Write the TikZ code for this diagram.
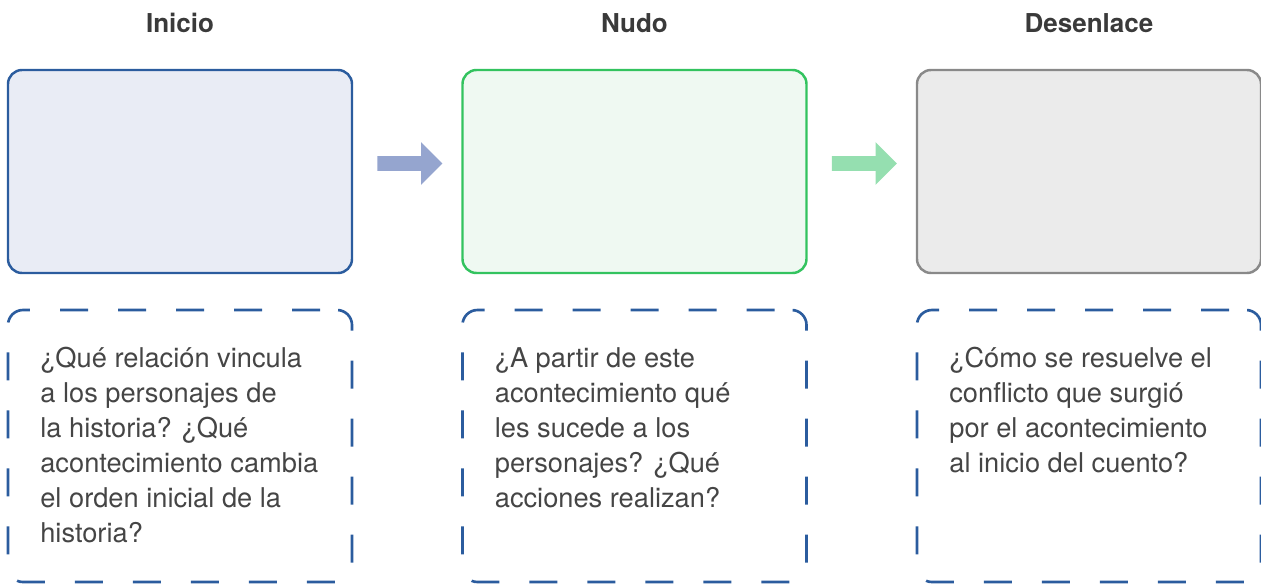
\documentclass[tikz,border=0pt]{standalone}
\usepackage{fontspec}
\setmainfont{TeX Gyre Heros}
\usepackage{xcolor}
\usetikzlibrary{positioning,shapes.arrows}
\definecolor{inkblue}{HTML}{2B5C9E}
\definecolor{iniciofill}{HTML}{E9ECF5}
\definecolor{nudoline}{HTML}{33C35F}
\definecolor{nudofill}{HTML}{EFF9F2}
\definecolor{cierreline}{HTML}{898989}
\definecolor{cierrefill}{HTML}{EBEBEB}
\definecolor{flowblue}{HTML}{95A5CF}
\definecolor{flowgreen}{HTML}{95DFB0}
\definecolor{textgray}{HTML}{454545}
\definecolor{headgray}{HTML}{3A3A3A}
\begin{document}
\begin{tikzpicture}[
  part/.style={draw, outer sep=0, line width=1.4pt, rounded corners=0.28cm,
    minimum width=6.88cm, minimum height=4.06cm},
  ask/.style={draw=inkblue, outer sep=0, line width=1.5pt, rounded corners=0.3cm,
    dash pattern=on 0.56cm off 0.6cm, dash phase=0.82cm,
    minimum width=6.88cm, minimum height=5.44cm},
  title/.style={inner sep=0, text=headgray, font=\bfseries\fontsize{14.8}{18}\selectfont},
  qtext/.style={inner sep=0, align=left, anchor=north west, text=textgray,
    font=\fontsize{15.5}{19.9}\selectfont, execute at begin node={\rule{0pt}{16pt}}},
  flow/.style={single arrow, draw=none, inner sep=0, inner ysep=0.14cm,
    single arrow head extend=0.28cm, minimum height=1.3cm}]
  \useasboundingbox (0,0) rectangle (25.22,-11.68);
  % the three parts of the story
  \node[part, draw=inkblue, fill=iniciofill] (inicio) at (3.6,-3.43) {};
  \node[part, draw=nudoline, fill=nudofill, right=2.21cm of inicio] (nudo) {};
  \node[part, draw=cierreline, fill=cierrefill, right=2.21cm of nudo] (desenlace) {};
  \node[title, above=0.73cm of inicio] (tinicio) {Inicio};
  \node[title, above=0.73cm of nudo] (tnudo) {Nudo};
  \node[title, above=0.73cm of desenlace] (tdesenlace) {Desenlace};
  \node[flow, fill=flowblue, right=0.5cm of inicio, yshift=0.16cm] (f1) {};
  \node[flow, fill=flowgreen, right=0.5cm of nudo, yshift=0.16cm] (f2) {};
  % questions
  \node[ask, below=0.74cm of inicio] (ask1) {};
  \node[ask, below=0.74cm of nudo] (ask2) {};
  \node[ask, below=0.74cm of desenlace] (ask3) {};
  \node[qtext, below right=0.74cm and 0.64cm of ask1.north west, anchor=north west] (q1)
    {¿Qué relación vincula\\a los personajes de\\la historia? ¿Qué\\acontecimiento cambia\\el orden inicial de la\\historia?};
  \node[qtext, below right=0.74cm and 0.64cm of ask2.north west, anchor=north west] (q2)
    {¿A partir de este\\acontecimiento qué\\les sucede a los\\personajes? ¿Qué\\acciones realizan?};
  \node[qtext, below right=0.74cm and 0.64cm of ask3.north west, anchor=north west] (q3)
    {¿Cómo se resuelve el\\conflicto que surgió\\por el acontecimiento\\al inicio del cuento?};
\end{tikzpicture}
\end{document}
